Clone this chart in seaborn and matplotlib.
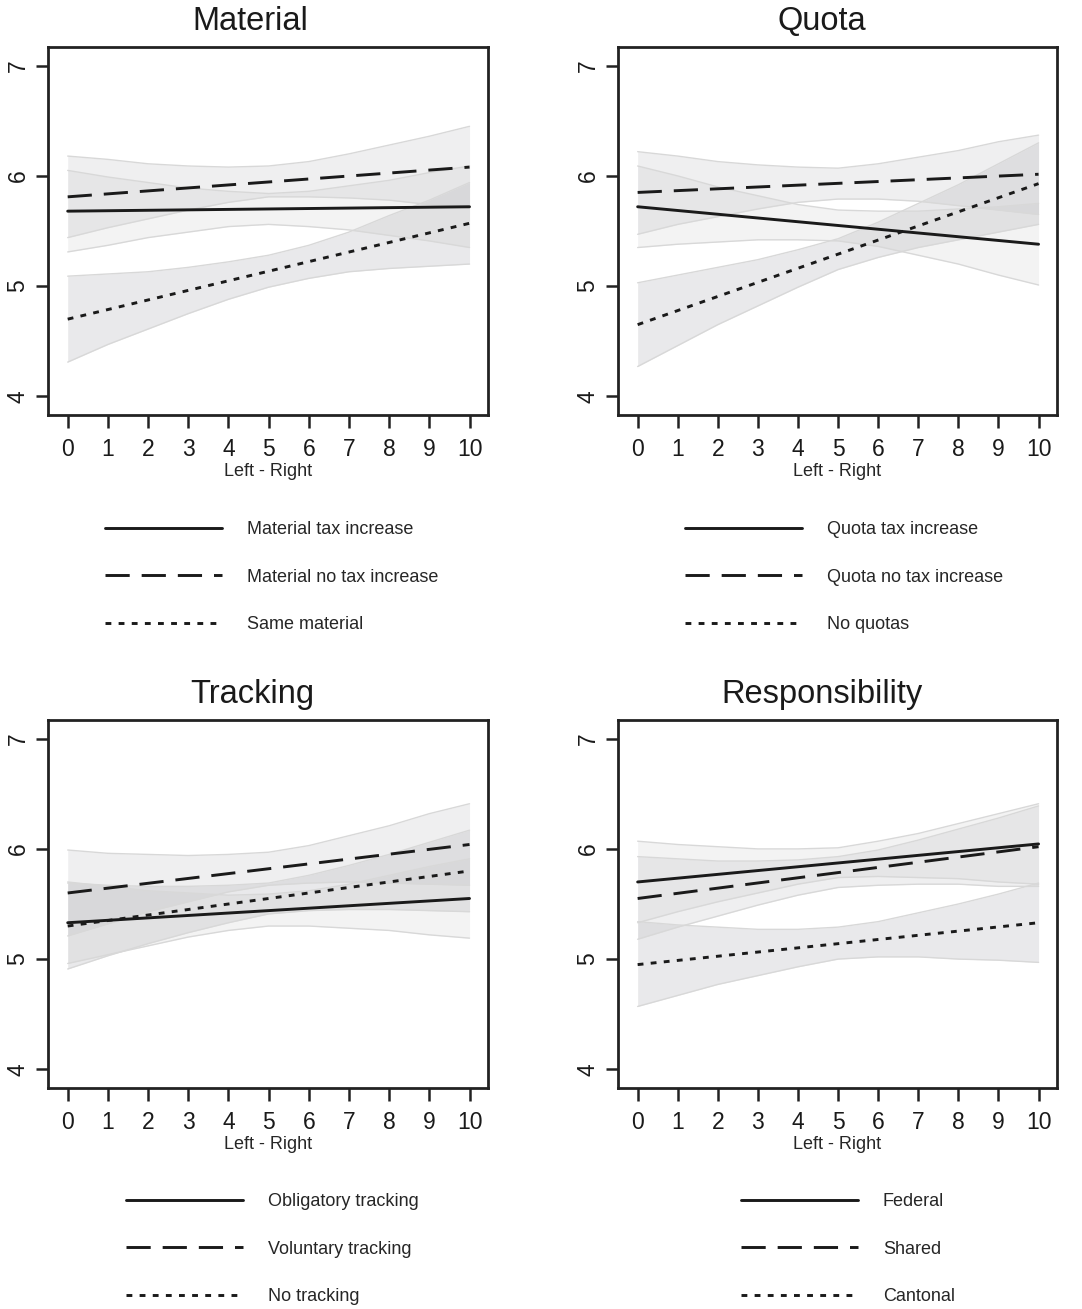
import numpy as np
import pandas as pd
import matplotlib
matplotlib.use("Agg")
from matplotlib import pyplot as plt
import seaborn as sns

# Data
x_pts = list(range(11))
x_ends = [0, 10]
styles = ['solid', 'dashed', 'dotted']

titles = ['Material', 'Quota', 'Tracking', 'Responsibility']

material_labels = ['Material tax increase', 'Material no tax increase', 'Same material']
material_ends = [[5.68, 5.72], [5.81, 6.08], [4.70, 5.57]]
material_lo = [[5.31, 5.37, 5.44, 5.49, 5.54, 5.56, 5.54, 5.51, 5.46, 5.41, 5.35],
               [5.44, 5.53, 5.61, 5.69, 5.76, 5.81, 5.81, 5.80, 5.78, 5.74, 5.71],
               [4.31, 4.47, 4.61, 4.75, 4.88, 4.99, 5.07, 5.13, 5.16, 5.18, 5.20]]
material_hi = [[6.05, 5.99, 5.94, 5.89, 5.86, 5.84, 5.86, 5.91, 5.96, 6.03, 6.09],
               [6.18, 6.15, 6.11, 6.09, 6.08, 6.09, 6.13, 6.20, 6.28, 6.36, 6.45],
               [5.09, 5.11, 5.13, 5.17, 5.22, 5.28, 5.37, 5.49, 5.64, 5.78, 5.94]]

quota_labels = ['Quota tax increase', 'Quota no tax increase', 'No quotas']
quota_ends = [[5.72, 5.38], [5.85, 6.015], [4.65, 5.93]]
quota_lo = [[5.35, 5.38, 5.40, 5.42, 5.42, 5.41, 5.36, 5.28, 5.20, 5.10, 5.01],
            [5.47, 5.56, 5.63, 5.70, 5.76, 5.79, 5.79, 5.77, 5.73, 5.69, 5.65],
            [4.27, 4.46, 4.65, 4.82, 4.99, 5.15, 5.26, 5.35, 5.42, 5.49, 5.56]]
quota_hi = [[6.09, 6.00, 5.90, 5.82, 5.74, 5.69, 5.68, 5.68, 5.70, 5.72, 5.75],
            [6.22, 6.18, 6.13, 6.10, 6.08, 6.07, 6.11, 6.17, 6.23, 6.31, 6.37],
            [5.03, 5.10, 5.17, 5.24, 5.33, 5.43, 5.58, 5.75, 5.92, 6.11, 6.30]]

tracking_labels = ['Obligatory tracking', 'Voluntary tracking', 'No tracking']
tracking_ends = [[5.33, 5.55], [5.60, 6.04], [5.30, 5.80]]
tracking_lo = [[4.96, 5.04, 5.12, 5.20, 5.26, 5.30, 5.30, 5.28, 5.26, 5.22, 5.19],
               [5.21, 5.32, 5.43, 5.52, 5.61, 5.67, 5.69, 5.70, 5.69, 5.68, 5.67],
               [4.91, 5.03, 5.14, 5.24, 5.33, 5.41, 5.44, 5.45, 5.45, 5.44, 5.43]]
tracking_hi = [[5.70, 5.66, 5.62, 5.60, 5.58, 5.59, 5.62, 5.68, 5.76, 5.84, 5.91],
               [5.99, 5.96, 5.95, 5.94, 5.95, 5.97, 6.03, 6.12, 6.21, 6.32, 6.41],
               [5.69, 5.67, 5.66, 5.66, 5.67, 5.69, 5.76, 5.85, 5.95, 6.06, 6.17]]

resp_labels = ['Federal', 'Shared', 'Cantonal']
resp_ends = [[5.70, 6.045], [5.55, 6.02], [4.95, 5.33]]
resp_lo = [[5.33, 5.43, 5.52, 5.60, 5.68, 5.74, 5.75, 5.74, 5.73, 5.70, 5.68],
           [5.18, 5.29, 5.39, 5.49, 5.58, 5.65, 5.67, 5.68, 5.68, 5.66, 5.66],
           [4.57, 4.67, 4.77, 4.85, 4.93, 5.00, 5.02, 5.02, 5.00, 4.99, 4.97]]
resp_hi = [[6.07, 6.04, 6.02, 6.00, 6.00, 6.01, 6.07, 6.14, 6.23, 6.32, 6.41],
           [5.93, 5.91, 5.89, 5.89, 5.90, 5.93, 5.99, 6.08, 6.18, 6.28, 6.39],
           [5.34, 5.31, 5.29, 5.27, 5.27, 5.29, 5.34, 5.42, 5.50, 5.59, 5.69]]

sns.set_style('ticks')
plt.rcParams['font.family'] = ['Liberation Sans', 'DejaVu Sans']

ink = '#1a1a1a'
band_alpha = [0.17, 0.22, 0.3]
dash_map = {'solid': '', 'dashed': (8.3, 4.1), 'dotted': (2.0, 2.5)}

fig = plt.figure(figsize=(10.82, 13.09), dpi=100)

# axes boxes in pixels: left, top, right, bottom
boxes = [(48, 47, 488, 415), (618, 47, 1057, 415),
         (48, 720, 488, 1088), (618, 720, 1057, 1088)]
title_x = [250, 822, 252, 822]
title_y = [22, 22, 695, 695]
leg_xy = [(105, 527), (685, 527), (126, 1199), (741, 1199)]

panels = [(material_labels, material_ends, material_lo, material_hi),
          (quota_labels, quota_ends, quota_lo, quota_hi),
          (tracking_labels, tracking_ends, tracking_lo, tracking_hi),
          (resp_labels, resp_ends, resp_lo, resp_hi)]

W, H = 1082, 1309
for i, (labels, ends, lo, hi) in enumerate(panels):
    l, t, r, b = boxes[i]
    ax = fig.add_axes([l / W, 1 - b / H, (r - l) / W, (b - t) / H])

    # confidence bands
    for j in range(3):
        ax.fill_between(x_pts, lo[j], hi[j], color='#b9b9bd', alpha=band_alpha[j],
                        linewidth=0, zorder=1)
        ax.plot(x_pts, lo[j], color='#d8d8d8', lw=1.0, zorder=2)
        ax.plot(x_pts, hi[j], color='#d8d8d8', lw=1.0, zorder=2)
    n_band_lines = len(ax.lines)

    df = pd.DataFrame({
        'x': x_ends * 3,
        'y': [v for e in ends for v in e],
        'series': [s for s in styles for _ in x_ends],
    })
    sns.lineplot(data=df, x='x', y='y', style='series', style_order=styles,
                 dashes=dash_map, color=ink, lw=2.1, ax=ax, legend=False,
                 zorder=3, estimator=None)
    handles = ax.lines[n_band_lines:n_band_lines + 3]

    ax.set_xlim(-0.49, 10.46)
    ax.set_ylim(3.83, 7.17)
    ax.set_xticks(range(11))
    ax.set_yticks([4, 5, 6, 7])
    ax.set_xlabel('Left - Right', fontsize=13, labelpad=1.5)
    ax.set_ylabel('')
    for sp in ax.spines.values():
        sp.set_visible(True)
        sp.set_linewidth(2.0)
        sp.set_color('#222222')
    ax.tick_params(axis='both', direction='out', length=9.5, width=1.8,
                   color='#222222', labelsize=16.5, labelcolor='#1a1a1a')
    ax.tick_params(axis='x', pad=7)
    ax.tick_params(axis='y', length=8.5, pad=4.8, labelrotation=90)
    for lab in ax.get_yticklabels():
        lab.set_va('center')
        lab.set_ha('right')

    fig.text(title_x[i] / W, 1 - title_y[i] / H, titles[i], fontsize=23.5,
             ha='center', va='center', color='#1a1a1a')

    lx, ly = leg_xy[i]
    ax.legend(handles, labels, loc='upper left',
              bbox_to_anchor=(lx / W, 1 - (ly - 6) / H),
              bbox_transform=fig.transFigure, frameon=False, fontsize=13,
              handlelength=6.5, handletextpad=1.35, labelspacing=1.69,
              borderpad=0, borderaxespad=0)

fig.savefig('out.png', dpi=100)
